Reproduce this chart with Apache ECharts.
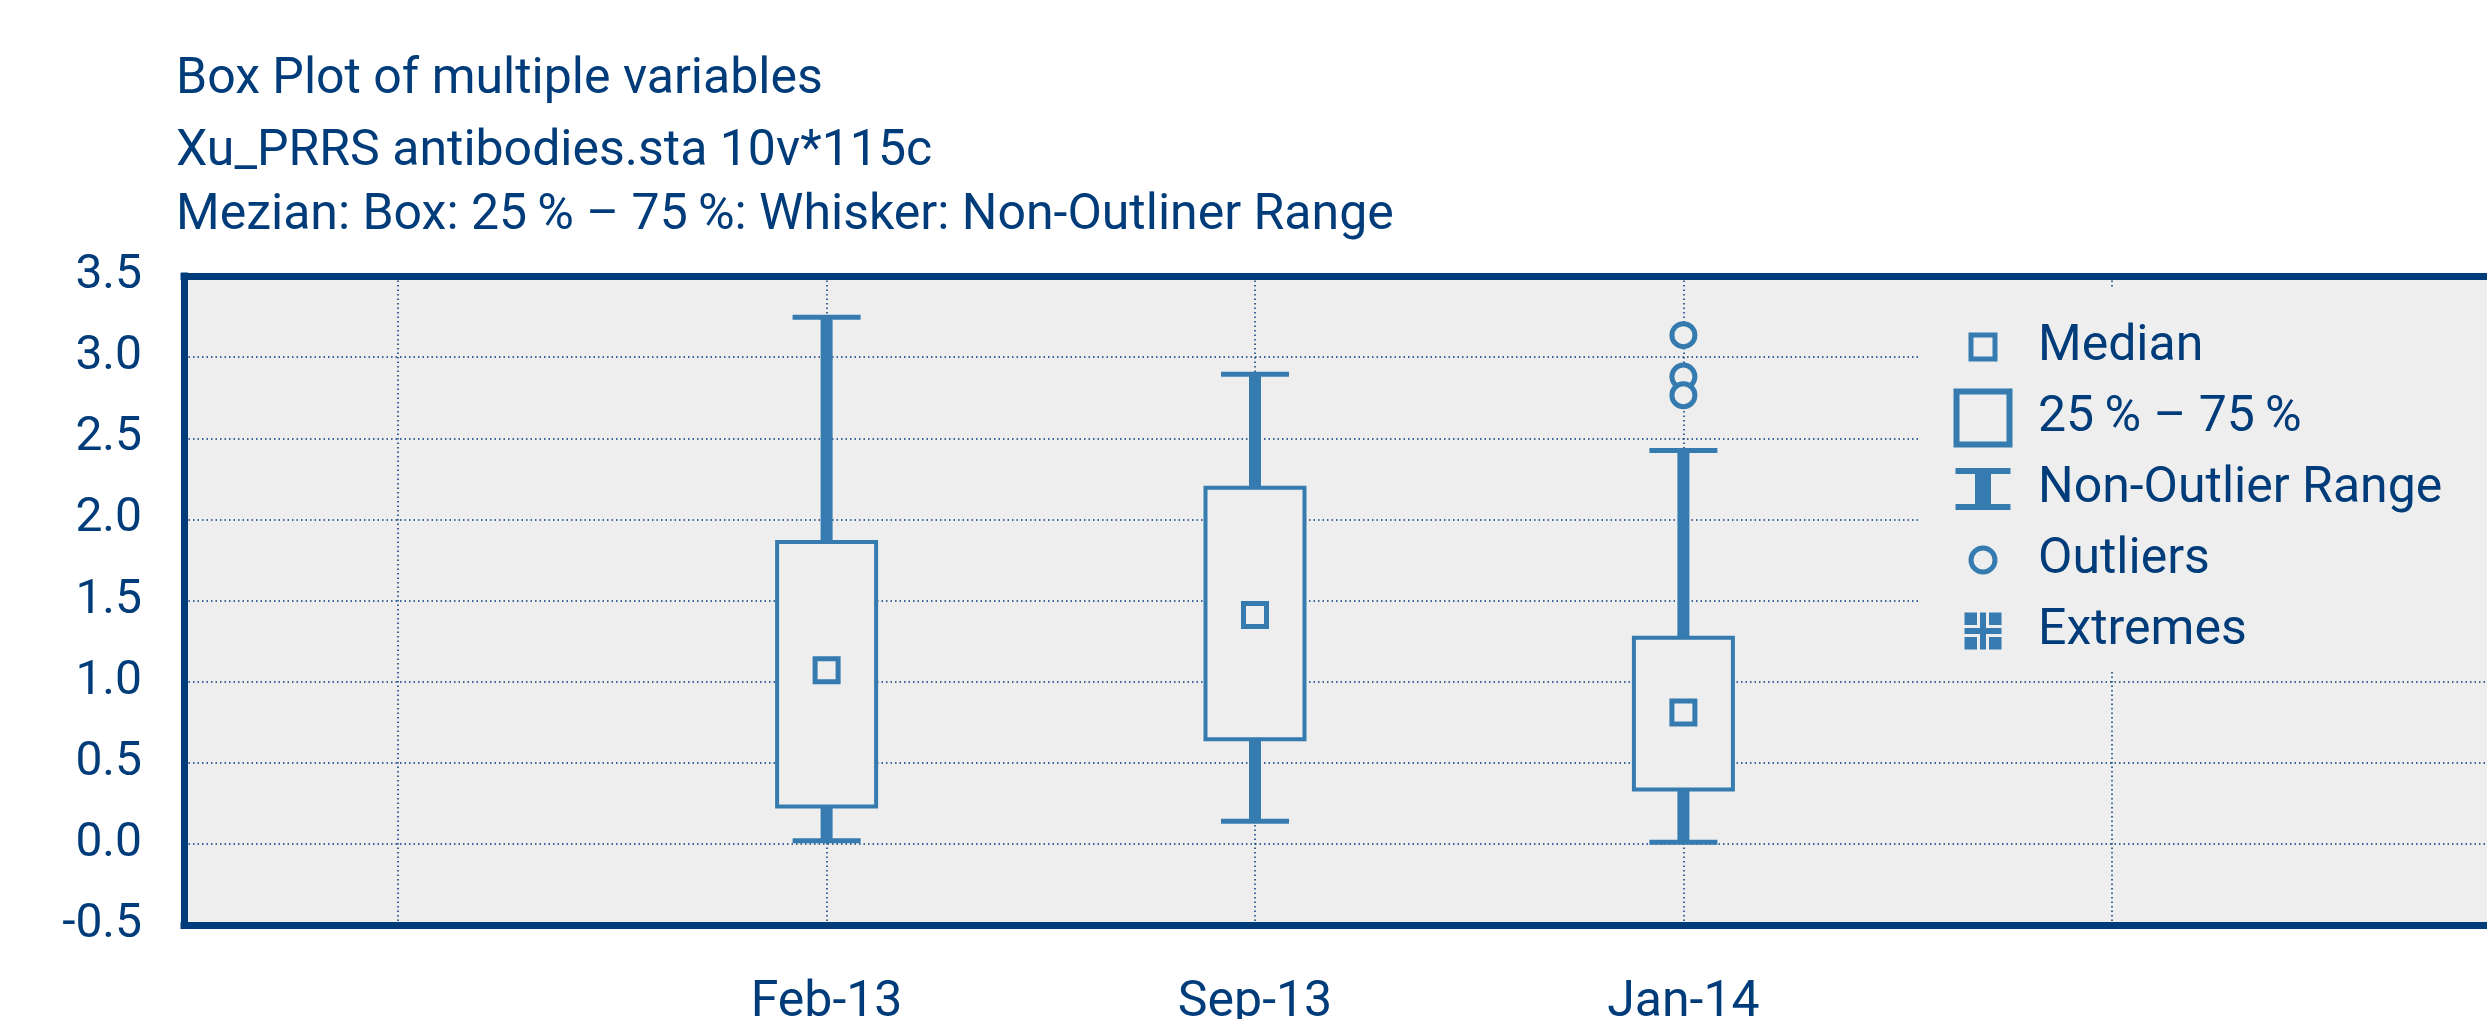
<!DOCTYPE html>
<html><head><meta charset="utf-8">
<script src="https://cdn.jsdelivr.net/npm/echarts@6/dist/echarts.min.js"></script>
<style>html,body{margin:0;padding:0;background:#fff}#c{width:2487px;height:1019px}</style>
</head><body><div id="c"></div>
<script>
// ---- data ----
const categories = ['', 'Feb-13', 'Sep-13', 'Jan-14', ' ', '  '];
const boxCategories = ['Feb-13', 'Sep-13', 'Jan-14'];
const whiskerLow = [0.02, 0.14, 0.01];
const quartile1 = [0.23, 0.645, 0.335];
const medians = [1.07, 1.41, 0.81];
const quartile3 = [1.86, 2.195, 1.27];
const whiskerHigh = [3.245, 2.895, 2.425];
const outlierCategories = ['Jan-14', 'Jan-14', 'Jan-14'];
const outlierValues = [3.135, 2.88, 2.765];
const yMin = -0.5, yMax = 3.5, yStep = 0.5;
const titleLines = [
  'Box Plot of multiple variables',
  'Xu_PRRS antibodies.sta 10v*115c',
  'Mezian: Box: 25\u2009% \u2013 75\u2009%: Whisker: Non-Outliner Range'
];
const legendNames = ['Median', '25\u2009% \u2013 75\u2009%', 'Non-Outlier Range', 'Outliers', 'Extremes'];

// ---- styles ----
const NAVY = '#003c7a';
const BLUE = '#357bb0';
const BG = '#eeeeee';
const FONT = 'Roboto';

const whiskerData = boxCategories.map((c, i) => [c, whiskerLow[i], quartile1[i], quartile3[i], whiskerHigh[i]]);
const boxData = boxCategories.map((c, i) => [c, quartile1[i], quartile3[i]]);
const medianData = boxCategories.map((c, i) => [c, medians[i]]);
const outlierData = outlierCategories.map((c, i) => [c, outlierValues[i]]);

// legend icons (viewBox 100x60, centred at 50,30)
const B = 'M0 0M100 60';
const icons = {
  median: B + 'M35.5 15.5H64.5V44.5H35.5Z M40.5 20.5V39.5H59.5V20.5Z',
  box: B + 'M20.5 0.5H79.5V59.5H20.5Z M26.5 6.5V53.5H73.5V6.5Z',
  range: B + 'M22.5 9H77.5V15H58V45H77.5V51H22.5V45H42V15H22.5Z',
  outlier: B + 'M64.5 30A14.5 14.5 0 1 0 35.5 30A14.5 14.5 0 1 0 64.5 30Z M59.5 30A9.5 9.5 0 1 1 40.5 30A9.5 9.5 0 1 1 59.5 30Z',
  extreme: B + 'M31.5 11.5H44V24H31.5Z M56 11.5H68.5V24H56Z M31.5 36H44V48.5H31.5Z M56 36H68.5V48.5H56Z M31.5 27H47V11.5H53V27H68.5V33H53V48.5H47V33H31.5Z'
};
const iconList = [icons.median, icons.box, icons.range, icons.outlier, icons.extreme];

const bandCount = categories.length;
const gridLeft = 184, bandW = 428.4;
const gridRight = 2487 - gridLeft - bandCount * bandW;

const frameLine = {show: true, onZero: false, lineStyle: {color: NAVY, width: 7, cap: 'square'}};
const dotted = {color: NAVY, width: 1.5, type: [1.5, 3]};

const chart = echarts.init(document.getElementById('c'), null, {renderer: 'canvas'});
const titleTops = [50, 122, 186];
chart.setOption({
  animation: false,
  backgroundColor: '#ffffff',
  textStyle: {fontFamily: FONT},
  title: titleLines.map((t, i) => ({
    text: t, left: 176, top: titleTops[i], padding: 0,
    textStyle: {fontFamily: FONT, fontSize: 50, fontWeight: 'normal', color: NAVY, lineHeight: 60}
  })),
  grid: {
    left: gridLeft, top: 276, bottom: 94, right: gridRight,
    outerBoundsMode: 'none', containLabel: false,
    show: true, backgroundColor: BG, borderWidth: 0
  },
  legend: {
    orient: 'vertical', left: 1920, top: 287,
    padding: [30, 600, 11, 13],
    itemGap: 11, itemWidth: 100, itemHeight: 60,
    backgroundColor: BG, selectedMode: false,
    textStyle: {fontFamily: FONT, fontSize: 50, color: NAVY, padding: [0, 0, 0, 0]},
    data: legendNames.map((n, i) => ({name: n, icon: 'path://' + iconList[i], itemStyle: {color: BLUE, borderWidth: 0, opacity: 1}}))
  },
  xAxis: [{
    type: 'category', data: categories, boundaryGap: true, position: 'bottom',
    axisLine: frameLine, axisTick: {show: false},
    axisLabel: {interval: 0, margin: 53, fontFamily: FONT, fontSize: 50, color: NAVY},
    splitLine: {show: true, interval: 0, alignWithLabel: true, lineStyle: dotted}
  }, {
    type: 'category', data: categories, boundaryGap: true, position: 'top',
    axisLine: frameLine, axisTick: {show: false}, axisLabel: {show: false}, splitLine: {show: false}
  }],
  yAxis: {
    type: 'value', min: yMin, max: yMax, interval: yStep,
    axisLine: frameLine, axisTick: {show: false},
    axisLabel: {margin: 42, fontFamily: FONT, fontSize: 48, color: NAVY, formatter: v => v.toFixed(1)},
    splitLine: {show: true, lineStyle: dotted}
  },
  series: [
    {
      name: legendNames[2], type: 'custom', data: whiskerData,
      encode: {x: 0, y: [1, 2, 3, 4]},
      itemStyle: {color: BLUE},
      renderItem: function (params, api) {
        const x = api.value(0);
        const lo = api.coord([x, api.value(1)]);
        const q1 = api.coord([x, api.value(2)]);
        const q3 = api.coord([x, api.value(3)]);
        const hi = api.coord([x, api.value(4)]);
        const cap = 34;
        const st = {stroke: BLUE, lineWidth: 12};
        const cs = {stroke: BLUE, lineWidth: 5};
        return {type: 'group', children: [
          {type: 'line', shape: {x1: lo[0], y1: lo[1], x2: q1[0], y2: q1[1]}, style: st},
          {type: 'line', shape: {x1: q3[0], y1: q3[1], x2: hi[0], y2: hi[1]}, style: st},
          {type: 'line', shape: {x1: lo[0] - cap, y1: lo[1], x2: lo[0] + cap, y2: lo[1]}, style: cs},
          {type: 'line', shape: {x1: hi[0] - cap, y1: hi[1], x2: hi[0] + cap, y2: hi[1]}, style: cs}
        ]};
      }
    },
    {
      name: legendNames[1], type: 'custom', data: boxData,
      encode: {x: 0, y: [1, 2]},
      itemStyle: {color: BLUE},
      renderItem: function (params, api) {
        const x = api.value(0);
        const a = api.coord([x, api.value(1)]);
        const b = api.coord([x, api.value(2)]);
        const w = 99;
        return {type: 'rect', shape: {x: a[0] - w / 2, y: b[1], width: w, height: a[1] - b[1]},
          style: {fill: BG, stroke: BLUE, lineWidth: 4}};
      }
    },
    {
      name: legendNames[0], type: 'scatter', data: medianData,
      symbol: 'rect', symbolSize: 23,
      itemStyle: {color: BG, borderColor: BLUE, borderWidth: 5, opacity: 1}
    },
    {
      name: legendNames[3], type: 'scatter', data: outlierData,
      symbol: 'circle', symbolSize: 23,
      itemStyle: {color: BG, borderColor: BLUE, borderWidth: 5, opacity: 1}
    },
    {
      name: legendNames[4], type: 'scatter', data: [],
      itemStyle: {color: BLUE}
    }
  ]
});
</script></body></html>
